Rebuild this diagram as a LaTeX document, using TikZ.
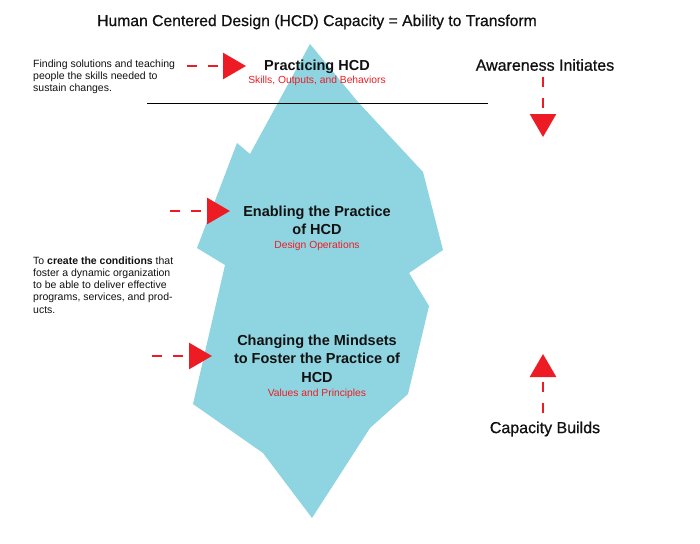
\documentclass[tikz,border=0pt]{standalone}
\usepackage{fontspec}
\setmainfont{Liberation Sans}
\newfontfamily\medfont{Liberation Sans}[FakeBold=0.7]
\usetikzlibrary{arrows.meta}
\definecolor{ice}{RGB}{142,213,225}
\definecolor{hred}{RGB}{237,28,36}
\definecolor{ink}{RGB}{17,17,17}
\begin{document}
\begin{tikzpicture}[x=1pt,y=-1pt,
  redarrow/.style={draw=hred, line width=2.6pt, dash pattern=on 10pt off 11pt,
    -{Triangle[length=23pt,width=26pt]}},
  headtxt/.style={text=ink, inner sep=0pt, align=center, font=\medfont\fontsize{15.7}{19}\selectfont},
  sidehead/.style={text=ink, inner sep=0pt, align=center, font=\medfont\fontsize{16}{19}\selectfont},
  bigtxt/.style={text=ink, inner sep=0pt, align=center, font=\bfseries\fontsize{14.5}{18.5}\selectfont},
  subtxt/.style={text=hred, inner sep=0pt, align=center, font=\fontsize{10.3}{12}\selectfont},
  sidetxt/.style={text=ink, inner sep=0pt, align=left, font=\fontsize{10.5}{12.2}\selectfont}]
\useasboundingbox (0,0) rectangle (700,543);

% iceberg
\fill[ice] (310,44) -- (358,102) -- (423,172) -- (443,250) -- (409,273) -- (429,306)
  -- (408,394) -- (370,428) -- (312,518) -- (263,453) -- (193,404) -- (225,265)
  -- (197,248) -- (237,143) -- (250,154) -- cycle;

% waterline
\coordinate (wl) at (147,103.5);
\coordinate (wr) at (488,103.5);
\draw[line width=1.5pt, black] (wl) -- (wr);

% title
\node[headtxt] (title) at (317,22) {Human Centered Design (HCD) Capacity = Ability to Transform};

% level 1
\node[bigtxt] (practicing) at (317,67) {Practicing HCD};
\node[subtxt] (skills) at (317,81) {Skills, Outputs, and Behaviors};
\node[sidetxt, anchor=west] (finding) at (33,77) {Finding solutions and teaching\\people the skills needed to\\sustain changes.};

% level 2
\node[bigtxt] (enabling) at (317,220.5) {Enabling the Practice\\of HCD};
\node[subtxt] (designops) at (317,246) {Design Operations};
\node[sidetxt, anchor=west] (create) at (33,285) {To \textbf{create the conditions} that\\foster a dynamic organization\\to be able to deliver effective\\programs, services, and prod-\\ucts.};

% level 3
\node[bigtxt] (changing) at (317,358.5) {Changing the Mindsets\\to Foster the Practice of\\HCD};
\node[subtxt] (values) at (317,394) {Values and Principles};

% right side
\node[sidehead] (awareness) at (545,65) {Awareness Initiates};
\node[sidehead] (capacity) at (545,429) {Capacity Builds};

% arrows
\coordinate (a1s) at (187,66);  \coordinate (a1e) at (246,66);
\coordinate (a2s) at (170,211); \coordinate (a2e) at (230,211);
\coordinate (a3s) at (152,356); \coordinate (a3e) at (212,356);
\coordinate (a4s) at (543,77);  \coordinate (a4e) at (543,137);
\coordinate (a5s) at (543,413); \coordinate (a5e) at (543,354);
\draw[redarrow] (a1s) -- (a1e);
\draw[redarrow] (a2s) -- (a2e);
\draw[redarrow] (a3s) -- (a3e);
\draw[redarrow] (a4s) -- (a4e);
\draw[redarrow] (a5s) -- (a5e);
\end{tikzpicture}
\end{document}
